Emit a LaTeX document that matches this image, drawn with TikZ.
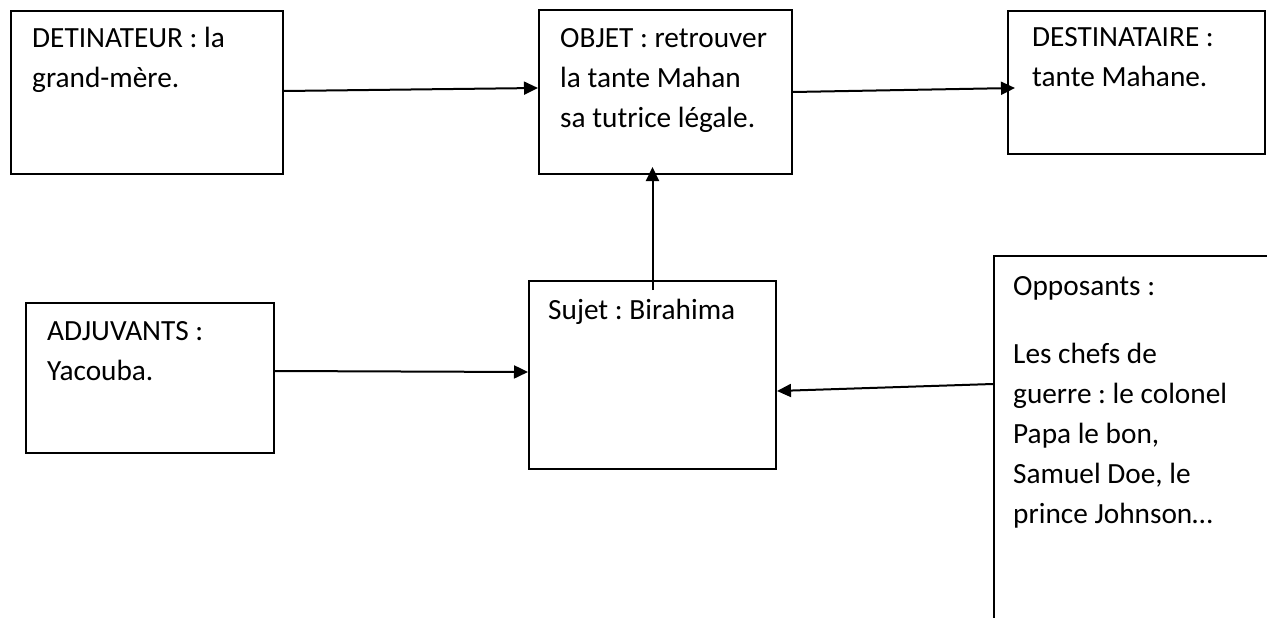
\documentclass[tikz,border=0pt]{standalone}
\usepackage{fontspec}
\setmainfont{Carlito}
\usetikzlibrary{arrows.meta,calc}
\frenchspacing
\newcommand{\lines}[1]{\begin{tabular}[t]{@{}l@{}}#1\end{tabular}}
\begin{document}
\begin{tikzpicture}[x=1pt,y=-1pt,
  box/.style={draw=black,line width=2pt,rectangle,inner sep=0pt,anchor=north west},
  txt/.style={anchor=base west,inner sep=0pt,font=\fontsize{29.3}{40}\selectfont},
  arr/.style={line width=2pt,-{Triangle[length=14pt,width=13pt]}}]
\useasboundingbox (0,0) rectangle (1267,618);
\clip (0,0) rectangle (1267,618);
\fill[white] (0,0) rectangle (1267,618);
% boxes
\node[box,minimum width=272pt,minimum height=163pt] (b1) at (10,10) {};
\node[box,minimum width=253pt,minimum height=164pt] (b2) at (538,9) {};
\node[box,minimum width=257pt,minimum height=143pt] (b3) at (1007,10) {};
\node[box,minimum width=247pt,minimum height=188pt] (b4) at (528,280) {};
\node[box,minimum width=248pt,minimum height=150pt] (b5) at (25,302) {};
\node[box,minimum width=320pt,minimum height=420pt] (b6) at (993,255) {};
% texts
\node[txt] (t1) at (32,48) {\lines{DETINATEUR : la\\grand-mère.}};
\node[txt] (t2) at (560,48) {\lines{OBJET : retrouver\\la tante Mahan\\sa tutrice légale.}};
\node[txt] (t3) at (1032,47) {\lines{DESTINATAIRE :\\tante Mahane.}};
\node[txt] (t4) at (548,319) {\lines{Sujet : Birahima}};
\node[txt] (t5) at (47,340) {\lines{ADJUVANTS :\\Yacouba.}};
\node[txt] (t6) at (1013,295) {\lines{Opposants :}};
\node[txt] (t7) at (1013,363) {\lines{Les chefs de\\guerre : le colonel\\Papa le bon,\\Samuel Doe, le\\prince Johnson…}};
% connectors
\draw[arr] ([yshift=1.5pt]b1.east) -- ([yshift=4pt]b2.west);
\draw[arr] ([yshift=0pt]b2.east) -- ([xshift=8pt,yshift=-5.5pt]b3.west);
\coordinate (s3) at ($(b4.north)+(0,10)$);
\coordinate (e3) at ($(b4.north |- b2.south)+(0,-8)$);
\draw[arr] (s3) -- (e3);
\draw[arr] ([yshift=7pt]b5.east) -- ([yshift=3pt]b4.west);
\coordinate (s5) at ($(b6.north west)+(0,129)$);
\draw[arr] (s5) -- ([yshift=-16pt]b4.east);
\end{tikzpicture}
\end{document}
